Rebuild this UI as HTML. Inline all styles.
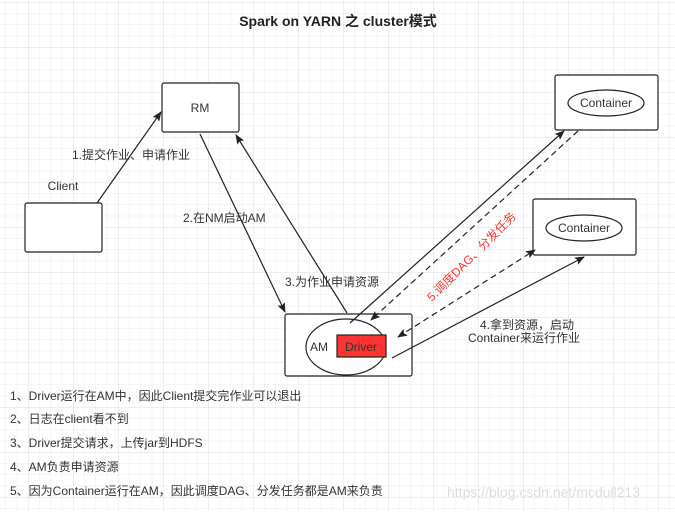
<!DOCTYPE html>
<html><head><meta charset="utf-8"><style>
body{margin:0;background:#fff}
svg text{font-family:"Liberation Sans","Noto Sans CJK SC",sans-serif}
</style></head><body>
<svg width="675" height="510" xmlns="http://www.w3.org/2000/svg">
<defs>
<pattern id="g" width="11.25" height="11.25" patternUnits="userSpaceOnUse" x="5.5" y="2">
<path d="M0 0H11.25M0 0V11.25" stroke="#ececec" stroke-width="1" fill="none"/>
</pattern>
<pattern id="G" width="45" height="45" patternUnits="userSpaceOnUse" x="28" y="2">
<path d="M0 0H45M0 0V45" stroke="#dcdcdc" stroke-width="1" fill="none"/>
</pattern>
<marker id="a" markerWidth="10" markerHeight="8" refX="9" refY="4" orient="auto" markerUnits="userSpaceOnUse">
<path d="M0 0L10 4L0 8L2 4Z" fill="#222"/>
</marker>
<marker id="as" markerWidth="10" markerHeight="8" refX="1" refY="4" orient="auto" markerUnits="userSpaceOnUse">
<path d="M10 0L0 4L10 8L8 4Z" fill="#222"/>
</marker>
</defs>
<rect width="675" height="510" fill="url(#g)"/>
<rect width="675" height="510" fill="url(#G)"/>
<text x="338" y="26" text-anchor="middle" font-size="14" font-weight="bold" fill="#222">Spark on YARN 之 cluster模式</text>

<g stroke="#222" stroke-width="1.2" fill="#fff">
<rect x="162" y="83" width="77" height="49" rx="2"/>
<rect x="25" y="203" width="77" height="49" rx="2"/>
<rect x="555" y="75" width="103" height="55" rx="2"/>
<rect x="533" y="199" width="103" height="56" rx="2"/>
<rect x="285" y="314" width="127" height="62" rx="2"/>
<ellipse cx="606" cy="103" rx="38" ry="13"/>
<ellipse cx="584" cy="228" rx="38" ry="13"/>
<ellipse cx="346" cy="347" rx="40" ry="28"/>
<rect x="337" y="335" width="49" height="22" fill="#f33"/>
</g>
<g font-size="12" fill="#333" text-anchor="middle">
<text x="200" y="112">RM</text>
<text x="606" y="107">Container</text>
<text x="584" y="232">Container</text>
<text x="319" y="351">AM</text>
<text x="361" y="351">Driver</text>
<text x="63" y="190">Client</text>
</g>
<g stroke="#222" stroke-width="1.2" fill="none">
<line x1="97" y1="203" x2="161" y2="112" marker-end="url(#a)"/>
<line x1="200" y1="134" x2="285" y2="312" marker-end="url(#a)"/>
<line x1="347" y1="313" x2="236" y2="135" marker-end="url(#a)"/>
<line x1="350" y1="323" x2="564" y2="131" marker-end="url(#a)"/>
<line x1="392" y1="358" x2="584" y2="257" marker-end="url(#a)"/>
<line x1="578" y1="131" x2="371" y2="320" stroke-dasharray="6 4" marker-end="url(#a)"/>
<line x1="398" y1="337" x2="535" y2="250" stroke-dasharray="6 4" marker-start="url(#as)" marker-end="url(#a)"/>
</g>
<g font-size="12" fill="#333">
<text x="72" y="159">1.提交作业、申请作业</text>
<text x="183" y="222">2.在NM启动AM</text>
<text x="285" y="286">3.为作业申请资源</text>
<text x="480" y="329">4.拿到资源，启动</text>
<text x="468" y="342">Container来运行作业</text>
<text x="0" y="0" fill="#f33" transform="translate(432,302) rotate(-45)">5.调度DAG、分发任务</text>
</g>
<g font-size="12" fill="#333">
<text x="10" y="400">1、Driver运行在AM中，因此Client提交完作业可以退出</text>
<text x="10" y="423">2、日志在client看不到</text>
<text x="10" y="447">3、Driver提交请求，上传jar到HDFS</text>
<text x="10" y="471">4、AM负责申请资源</text>
<text x="10" y="495">5、因为Container运行在AM，因此调度DAG、分发任务都是AM来负责</text>
</g>
<text x="447" y="497" font-size="14" fill="#ddd">https://blog.csdn.net/mcdull213</text>
</svg>
</body></html>
